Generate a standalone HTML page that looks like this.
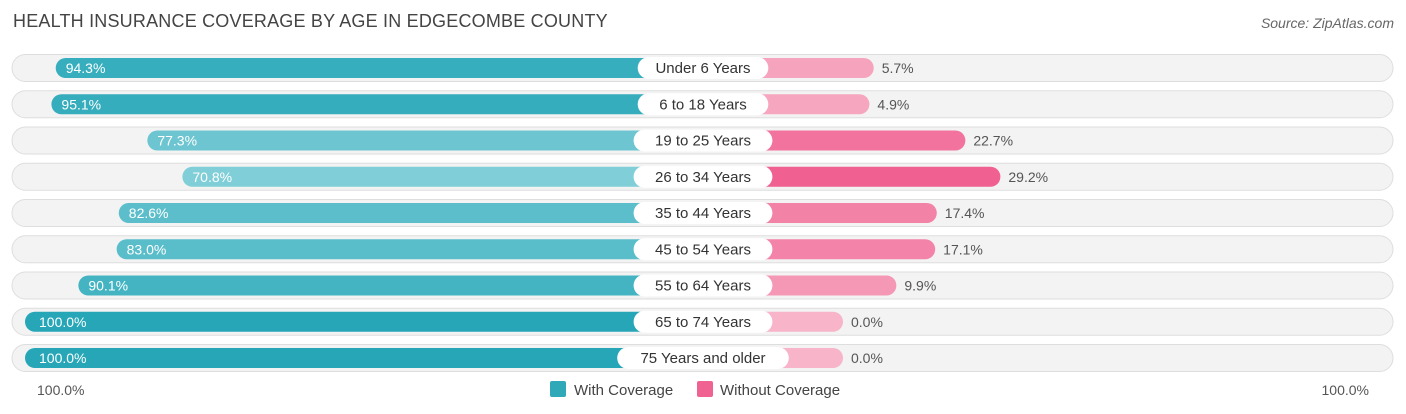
<!DOCTYPE html>
<html><head><meta charset="utf-8"><style>
body{margin:0;background:#fff;font-family:"Liberation Sans",sans-serif;}
#wrap{position:relative;width:1406px;height:414px;overflow:hidden;}
.title{position:absolute;left:13px;top:11px;font-size:18px;color:#444;letter-spacing:0.2px}
.src{position:absolute;right:12px;top:15px;font-size:14px;color:#666;font-style:italic}
</style></head><body>
<div id="wrap">
<div class="title">HEALTH INSURANCE COVERAGE BY AGE IN EDGECOMBE COUNTY</div>
<div class="src">Source: ZipAtlas.com</div>
<svg id="svg" width="1406" height="414" style="position:absolute;left:0;top:0"></svg>
</div>
<script>
const categories=["Under 6 Years","6 to 18 Years","19 to 25 Years","26 to 34 Years","35 to 44 Years","45 to 54 Years","55 to 64 Years","65 to 74 Years","75 Years and older"];
const withCov=[94.3,95.1,77.3,70.8,82.6,83.0,90.1,100.0,100.0];
const withoutCov=[5.7,4.9,22.7,29.2,17.4,17.1,9.9,0.0,0.0];
const NS="http://www.w3.org/2000/svg";
const svg=document.getElementById('svg');
const center=703, scale=5.39, leftZero=564, rightZero=843;
function rowY(i){return 68+i*36.25;}
function xLeft(v){return leftZero-scale*v;}
function xRight(v){return rightZero+scale*v;}
function mk(t,a){const e=document.createElementNS(NS,t);for(const k in a)e.setAttribute(k,a[k]);svg.appendChild(e);return e;}
function mix(a,b,t){return '#'+a.map((c,i)=>Math.round(c+(b[i]-c)*t).toString(16).padStart(2,'0')).join('');}
function tealC(v){return mix([130,207,216],[38,166,183],Math.max(0,Math.min(1,(v-70)/30)));}
function pinkC(v){return mix([248,180,201],[240,96,144],Math.max(0,Math.min(1,v/29.2)));}
categories.forEach((c,i)=>{
  const y=rowY(i);
  const bg=mk('rect',{x:12,y:y-13.5,width:1381,height:27,rx:13.5,fill:'#f3f3f3',stroke:'#dedede','stroke-width':1});
  
  
  const lx=xLeft(withCov[i]);
  const lb=mk('rect',{x:lx,y:y-10,width:center-lx,height:20,rx:10,fill:tealC(withCov[i])});
  
  
  const rx=xRight(withoutCov[i]);
  const rb=mk('rect',{x:center,y:y-10,width:rx-center,height:20,rx:10,fill:pinkC(withoutCov[i])});
  
  
  const lt=mk('text',{x:lx+(withCov[i]>=99?14:10),y:y+5,'font-size':14,fill:'#fff'});
  lt.textContent=withCov[i].toFixed(1)+'%';
  
  
  const rt=mk('text',{x:rx+8,y:y+5,'font-size':14,fill:'#555'});
  rt.textContent=withoutCov[i].toFixed(1)+'%';
  
  
  const w=c.length*8.2+24;
  const pill=mk('rect',{x:center-w/2,y:y-11,width:w,height:22,rx:11,fill:'#fff'});
  
  
  const ct=mk('text',{x:center,y:y+5,'font-size':15,fill:'#333','text-anchor':'middle'});
  ct.textContent=c;
  
  
});
const a1=mk('text',{x:37,y:395,'font-size':14,fill:'#555'});a1.textContent='100.0%';


const a2=mk('text',{x:1369,y:395,'font-size':14,fill:'#555','text-anchor':'end'});a2.textContent='100.0%';


const s1=mk('rect',{x:550,y:381,width:16,height:16,rx:2,fill:'#2fa9b8'});


const t1=mk('text',{x:574,y:395,'font-size':15,fill:'#444'});t1.textContent='With Coverage';


const s2=mk('rect',{x:697,y:381,width:16,height:16,rx:2,fill:'#f06292'});


const t2=mk('text',{x:720,y:395,'font-size':15,fill:'#444'});t2.textContent='Without Coverage';


</script>
</body></html>
